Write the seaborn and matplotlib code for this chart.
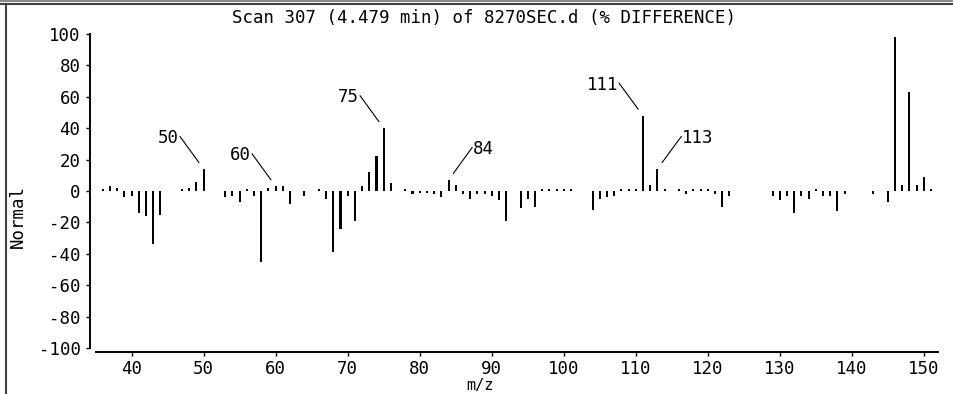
import matplotlib
matplotlib.use("Agg")
import matplotlib.pyplot as plt
from matplotlib.lines import Line2D
import numpy as np
import pandas as pd
import seaborn as sns

# ---- data ----
mz = [36, 37, 38, 39, 40, 41, 42, 43, 44, 47, 48, 49, 50,
      53, 54, 55, 56, 57, 58, 59, 60, 61, 62, 64, 66, 67, 68, 69, 70, 71,
      72, 73, 74, 75, 76, 78, 79, 80, 81, 82, 83, 84, 85, 86, 87, 88, 89,
      90, 91, 92, 94, 95, 96, 97, 98, 99, 100, 101,
      104, 105, 106, 107, 108, 109, 110, 111, 112, 113, 114,
      116, 117, 118, 119, 120, 121, 122, 123,
      129, 130, 131, 132, 133, 134, 135, 136, 137, 138, 139,
      143, 145, 146, 147, 148, 149, 150, 151]
diff = [1, 3, 2, -4, -3, -14, -16, -34, -15, 1, 2, 6, 14,
        -4, -3, -7, 1, -3, -45, 2, 3, 3, -8, -3, 1, -5, -39, -24, -3, -19,
        3, 12, 22, 40, 5, 1, -2, -1, -1, -2, -4, 7, 4, -2, -5, -2, -2,
        -3, -6, -19, -11, -5, -10, 1, 1, 1, 1, 1,
        -12, -5, -4, -3, 1, 1, 1, 48, 4, 14, 1,
        1, -2, 1, 1, 1, -2, -10, -3,
        -3, -6, -3, -14, -3, -5, 1, -3, -3, -13, -2,
        -2, -7, 98, 4, 63, 4, 9, 1]
labeled_mz = [50, 60, 75, 84, 111, 113]
label_side = [-1, -1, -1, 1, -1, 1]
title_text = "Scan 307 (4.479 min) of 8270SEC.d (% DIFFERENCE)"
xlabel_text = "m/z"
ylabel_text = "Normal"
xticks = [40, 50, 60, 70, 80, 90, 100, 110, 120, 130, 140, 150]
yticks = [-100, -80, -60, -40, -20, 0, 20, 40, 60, 80, 100]

sns.set_theme(style="white")
plt.rcParams["font.family"] = ["DejaVu Sans Mono", "DejaVu Sans"]
plt.rcParams["axes.unicode_minus"] = False

W, H = 954, 394
fig = plt.figure(figsize=(W / 100, H / 100), dpi=100)
fig.patch.set_facecolor("white")

x0, x1 = 95.65, 938.2
ytop, ybot = 34, 352
ax = fig.add_axes([x0 / W, (H - ybot) / H, (x1 - x0) / W, (ybot - ytop) / H])
ax.set_facecolor("white")

df = pd.DataFrame({"mz": mz, "diff": diff})
sns.barplot(data=df, x="mz", y="diff", native_scale=True, width=0.28,
            color="black", saturation=1, linewidth=0, errorbar=None, ax=ax)

ax.set_xlim(35, 152)
ax.set_ylim(-102.5, 100)
ax.set_xticks(xticks)
ax.set_yticks(yticks)
ax.set_xticklabels([str(t) for t in xticks])
ax.set_yticklabels([str(t) for t in yticks])
ax.set_xlabel("")
ax.set_ylabel("")
ax.grid(False)

for s in ["top", "right"]:
    ax.spines[s].set_visible(False)
ax.spines["left"].set_position(("outward", 6 * 0.72))
ax.spines["left"].set_bounds(-100, 100)
for s in ["left", "bottom"]:
    ax.spines[s].set_color("black")
    ax.spines[s].set_linewidth(1.4)

ax.tick_params(axis="both", which="major", bottom=True, left=True,
               direction="out", length=3, width=1, color="black",
               labelsize=12.5, labelcolor="black")
ax.tick_params(axis="x", pad=3)
ax.tick_params(axis="y", pad=3.5)

# peak labels with leader lines
for m, side in zip(labeled_mz, label_side):
    v = df.loc[df["mz"] == m, "diff"].iloc[0]
    txt = str(m)
    dx = side * (24 + len(txt) * 5.5)
    ax.annotate(txt, xy=(m, v), xycoords="data", xytext=(dx, 31),
                textcoords="offset pixels", ha="center", va="center",
                fontsize=12.5, color="black",
                arrowprops=dict(arrowstyle="-", color="black", lw=0.8,
                                shrinkA=1, shrinkB=8 * 0.72,
                                relpos=((1 if side < 0 else 0), 0.65),
                                patchA=None))

# titles / labels
fig.text(484 / W, 1 - 18 / H, title_text, ha="center", va="center",
         fontsize=12.5, color="black")
fig.text(17.5 / W, 1 - 216 / H, ylabel_text, ha="center", va="center",
         rotation=90, fontsize=12.5, color="black")
fig.text(480 / W, 1 - 385.5 / H, xlabel_text, ha="center", va="center",
         fontsize=11, color="black")

# window frame
fig.add_artist(Line2D([0, 1], [1 - 1 / H, 1 - 1 / H], transform=fig.transFigure,
                      color="#8a8a8a", lw=1.5))
fig.add_artist(Line2D([0, 1], [1 - 4.3 / H, 1 - 4.3 / H], transform=fig.transFigure,
                      color="#404040", lw=1.5))
fig.add_artist(Line2D([6 / W, 6 / W], [0, 1 - 4.3 / H], transform=fig.transFigure,
                      color="#404040", lw=1.5))

fig.savefig("out.png", dpi=100, facecolor="white")
